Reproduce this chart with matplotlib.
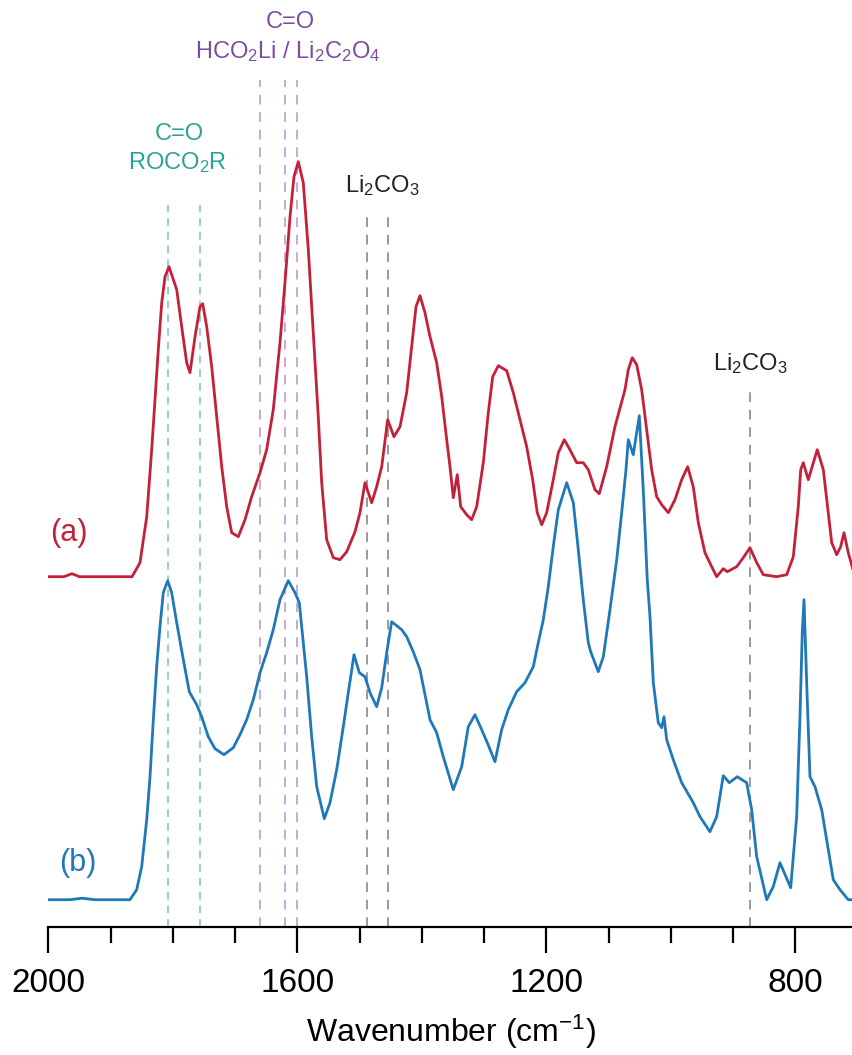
import matplotlib
matplotlib.use("Agg")
import matplotlib.pyplot as plt
from matplotlib.ticker import MultipleLocator

plt.rcParams['font.family'] = ['Liberation Sans', 'DejaVu Sans']
plt.rcParams['mathtext.fontset'] = 'custom'
plt.rcParams['mathtext.rm'] = 'Liberation Sans'
plt.rcParams['mathtext.it'] = 'Liberation Sans'
plt.rcParams['mathtext.default'] = 'regular'

# ---------------- data ----------------
red_wavenumber = [2000, 1975, 1962, 1950, 1917, 1865.5, 1852.7, 1841.9, 1833.9, 1828.6, 1823.3, 1817.8,
                  1812.5, 1806.1, 1793.7, 1785.7, 1777.7, 1772.4, 1764.3, 1756.3, 1752, 1745.5,
                  1737.5, 1729.5, 1721.4, 1713.4, 1705.4, 1694.8, 1684, 1673.3, 1659.9, 1649.2,
                  1638.6, 1627.8, 1619.8, 1611.7, 1605.3, 1598.4, 1590.4, 1582.3, 1574.3, 1566.3,
                  1560.8, 1552.8, 1542.2, 1536.7, 1531.4, 1520.6, 1507.3, 1499.3, 1491.3, 1480.5,
                  1472.5, 1464.4, 1454.8, 1444.7, 1435, 1424.3, 1416.2, 1409.3, 1402.9, 1394.9,
                  1386.8, 1376.1, 1368, 1360, 1354.7, 1349.4, 1343, 1337.5, 1327.9, 1319.9,
                  1311.8, 1301.2, 1293.2, 1286.1, 1277.1, 1263.6, 1253, 1242.3, 1231.5, 1221.9,
                  1214.5, 1207.4, 1199.4, 1188.8, 1180.7, 1171.1, 1162, 1151.2, 1140.6, 1132.5,
                  1121.8, 1114.9, 1103, 1089.7, 1078.9, 1073.6, 1068.3, 1061.9, 1054.8, 1046.8,
                  1038.7, 1030.7, 1022.7, 1014.6, 1004, 993.3, 982.5, 972.9, 963.9, 955.8,
                  945.1, 934.3, 926.3, 915.7, 909.3, 894.2, 883.6, 872.8, 862, 851.4,
                  829.9, 813.8, 803.2, 795.2, 791.3, 787.2, 779.1, 764.7, 755, 747,
                  741.5, 733.5, 727.1, 721.8, 714.9, 707.3, 696]
red_absorbance = [0, 0, 3, 0, 0, 0, 14, 60, 127, 177, 227, 274,
                  300, 310, 287, 250, 214, 204, 240, 270, 273, 250,
                  210, 160, 110, 70, 44, 40, 57, 80, 104, 127,
                  167, 234, 294, 360, 400, 415, 394, 327, 244, 160,
                  94, 37, 19, 18, 17, 25, 45, 64, 94, 74,
                  90, 110, 157, 140, 150, 184, 230, 270, 281, 264,
                  240, 214, 180, 137, 110, 79, 102, 70, 62, 57,
                  70, 114, 164, 200, 211, 206, 184, 157, 130, 97,
                  64, 52, 64, 97, 124, 137, 127, 114, 114, 107,
                  87, 83, 110, 150, 175, 187, 207, 219, 212, 187,
                  147, 107, 80, 72, 64, 77, 97, 110, 90, 54,
                  24, 10, 0, 8, 5, 10, 19, 29, 14, 2,
                  0, 2, 20, 70, 107, 114, 97, 127, 107, 64,
                  34, 22, 30, 44, 24, 7, 0]

blue_wavenumber = [2000, 1965, 1946, 1925, 1868.8, 1858, 1850, 1841.9, 1836.6, 1831.3, 1825.9, 1820.6,
                   1815.3, 1808.2, 1801.8, 1793.7, 1783.1, 1773.5, 1761.6, 1753.6, 1743, 1732.2,
                   1717.8, 1702.8, 1692.1, 1681.3, 1670.7, 1659.9, 1649.2, 1638.6, 1627.8, 1614.5,
                   1603.7, 1596.8, 1592.9, 1584.9, 1576.9, 1568.8, 1556.6, 1547.5, 1536.7, 1526.1,
                   1518.1, 1508.9, 1500.4, 1491.3, 1483.2, 1472.5, 1464.4, 1456.4, 1448.4, 1432.3,
                   1424.3, 1413.7, 1402.9, 1394.9, 1386.8, 1376.1, 1365.5, 1349.4, 1335.9, 1325.3,
                   1314.6, 1303.8, 1294.8, 1282.4, 1271.7, 1261.1, 1247.6, 1234.2, 1220.9, 1212.9,
                   1204.8, 1196.8, 1188.8, 1180.7, 1167.2, 1156.6, 1148.6, 1140.6, 1132.5, 1128.7,
                   1116.5, 1108.4, 1097.7, 1086.9, 1078.9, 1072, 1068.3, 1060.3, 1050.6, 1044.2,
                   1037.8, 1033.4, 1028.1, 1020.1, 1014.6, 1010.9, 1006.6, 996, 982.5, 963.9,
                   953.1, 937.1, 926.3, 915.7, 906, 893.2, 878.1, 870.1, 862, 846,
                   835.4, 824.6, 807.4, 797.8, 792.5, 788.8, 786, 781.7, 776.4, 768.4,
                   757.6, 749.6, 739, 728.2, 714.9, 696]
blue_absorbance = [0, 0, 1.5, 0, 0, 10, 33, 80, 123, 180, 233, 273,
                   307, 319, 307, 277, 240, 208, 195, 183, 163, 151,
                   145, 152, 165, 180, 200, 227, 247, 270, 300, 319,
                   307, 297, 273, 223, 163, 113, 81, 97, 130, 173,
                   207, 245, 227, 223, 207, 193, 212, 247, 278, 270,
                   263, 248, 230, 205, 180, 167, 143, 110, 133, 173,
                   185, 170, 157, 138, 170, 190, 208, 217, 233, 257,
                   280, 313, 353, 390, 417, 397, 350, 300, 257, 248,
                   228, 243, 290, 340, 387, 430, 460, 445, 484, 410,
                   320, 283, 217, 177, 172, 183, 160, 140, 117, 97,
                   83, 68, 83, 124, 117, 123, 117, 90, 43, 0,
                   13, 37, 12, 83, 183, 267, 300, 217, 123, 113,
                   90, 60, 20, 10, 0, 0]

red_offset = 350
blue_offset = 27

teal_lines = [1808, 1756]
purple_lines = [1660, 1620, 1600]
gray_lines_pair = [1488, 1455]
gray_line_single = [872]

tick_major = [2000, 1600, 1200, 800]

# ---------------- figure ----------------
W, H = 853, 1055
fig = plt.figure(figsize=(W / 100, H / 100), dpi=100)
x0 = 48.3
yax = 926.7
ax = fig.add_axes([x0 / W, 1 - yax / H, (W - x0) / W, yax / H])
ax.set_xlim(2000, 707.3)
ax.set_ylim(0, yax)

red_c = '#C3203A'
blue_c = '#1F78B8'
teal_c = '#2AA392'
purple_c = '#7D4C9E'

def ypix(p):
    return yax - p

# dashed reference lines
for w in teal_lines:
    ax.plot([w, w], [0, ypix(205)], ls=(0, (5, 4)), color='#7CC3B6', lw=1.1, zorder=1)
for w in purple_lines:
    ax.plot([w, w], [0, ypix(80)], ls=(0, (5, 4)), color='#C7AAD6', lw=1.4, zorder=1)
for w in gray_lines_pair:
    ax.plot([w, w], [0, ypix(210)], ls=(0, (5, 4)), color='#9A9A9A', lw=1.4, zorder=1)
for w in gray_line_single:
    ax.plot([w, w], [0, ypix(390)], ls=(0, (5, 4)), color='#9A9A9A', lw=1.4, zorder=1)

# spectra
ax.plot(red_wavenumber, [v + red_offset for v in red_absorbance], color=red_c, lw=2.0,
        solid_joinstyle='round', zorder=3)
ax.plot(blue_wavenumber, [v + blue_offset for v in blue_absorbance], color=blue_c, lw=2.0,
        solid_joinstyle='round', zorder=3)

# annotations
fs_ann = 17
ax.text(1790, ypix(134), 'C=O', color=teal_c, fontsize=fs_ann, ha='center', va='center')
ax.text(1792, ypix(163), r'ROCO$_2$R', color=teal_c, fontsize=fs_ann, ha='center', va='center')
ax.text(1612, ypix(22), 'C=O', color=purple_c, fontsize=fs_ann, ha='center', va='center')
ax.text(1615, ypix(52), r'HCO$_2$Li / Li$_2$C$_2$O$_4$', color=purple_c, fontsize=fs_ann,
        ha='center', va='center')
ax.text(1464, ypix(186), r'Li$_2$CO$_3$', color='#222222', fontsize=fs_ann, ha='center', va='center')
ax.text(873, ypix(364), r'Li$_2$CO$_3$', color='#222222', fontsize=fs_ann, ha='center', va='center')
ax.text(1967, ypix(533), '(a)', color=red_c, fontsize=22, ha='center', va='center')
ax.text(1952, ypix(863), '(b)', color=blue_c, fontsize=22, ha='center', va='center')

# axes styling
for s in ['top', 'left', 'right']:
    ax.spines[s].set_visible(False)
ax.spines['bottom'].set_linewidth(1.6)
ax.set_yticks([])
ax.set_xticks(tick_major)
ax.xaxis.set_minor_locator(MultipleLocator(100))
ax.tick_params(axis='x', which='major', length=18.5, width=1.6, direction='out', labelsize=24, pad=11)
ax.tick_params(axis='x', which='minor', length=11.5, width=1.6, direction='out')
ax.set_xlabel(r'Wavenumber (cm$^{\mathrm{-1}}$)', fontsize=23, labelpad=10)

fig.savefig('out.png', dpi=100)
